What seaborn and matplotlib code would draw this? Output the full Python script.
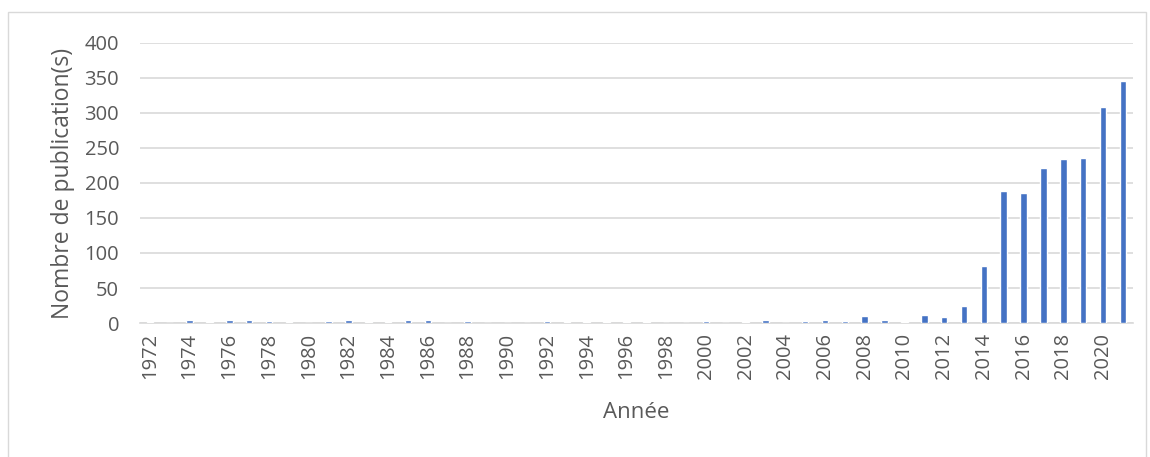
import matplotlib
matplotlib.use("Agg")
import matplotlib.pyplot as plt
import seaborn as sns
import pandas as pd
from matplotlib.patches import Rectangle

years = list(range(1972, 2022))
publications = [1, 0, 5, 2, 5, 5, 3, 2, 0, 3,
                4, 1, 1, 5, 4, 0, 3, 0, 0, 0,
                3, 1, 1, 1, 1, 1, 0, 0, 3, 0,
                1, 5, 0, 3, 4, 3, 10, 5, 1, 11,
                8, 25, 81, 188, 186, 221, 234, 235, 309, 346]
y_ticks = [0, 50, 100, 150, 200, 250, 300, 350, 400]

df = pd.DataFrame({"Année": [str(y) for y in years], "Publications": publications})

sns.set_theme(style="white")
plt.rcParams["font.family"] = ["Open Sans", "DejaVu Sans"]
text_color = "#595959"
grid_color = "#d9d9d9"

fig = plt.figure(figsize=(11.5, 4.57), dpi=100)
ax = fig.add_axes([0.1217, 0.2932, 0.8633, 0.6128])

sns.barplot(data=df, x="Année", y="Publications", color="#4472C4",
            width=0.33, saturation=1, ax=ax, zorder=3)

ax.set_ylim(0, 400)
ax.set_xlim(-0.5, len(years) - 0.5)
ax.set_yticks(y_ticks)
ax.set_yticklabels([str(v) for v in y_ticks], fontsize=14.5, color=text_color)
ax.yaxis.grid(True, color=grid_color, linewidth=1.2, zorder=0)
ax.set_axisbelow(True)

positions = list(range(0, len(years), 2))
ax.set_xticks(positions)
ax.set_xticklabels([str(years[i]) for i in positions], rotation=90,
                   fontsize=14.5, color=text_color)
ax.tick_params(axis="y", length=0, pad=15)
ax.tick_params(axis="x", length=0, pad=7)

for side in ["top", "right", "left"]:
    ax.spines[side].set_visible(False)
ax.spines["bottom"].set_color(grid_color)
ax.spines["bottom"].set_linewidth(1.2)

ax.set_ylabel("Nombre de publication(s)", fontsize=16.5, color=text_color, labelpad=7)
ax.set_xlabel("Année", fontsize=16, color=text_color, labelpad=17)

fig.patches.append(Rectangle((8 / 1150, -0.05), 1138 / 1150, 1.05 - 12 / 457,
                             transform=fig.transFigure, fill=False,
                             edgecolor=grid_color, linewidth=1.0))

fig.savefig("out.png", dpi=100, facecolor="white")
